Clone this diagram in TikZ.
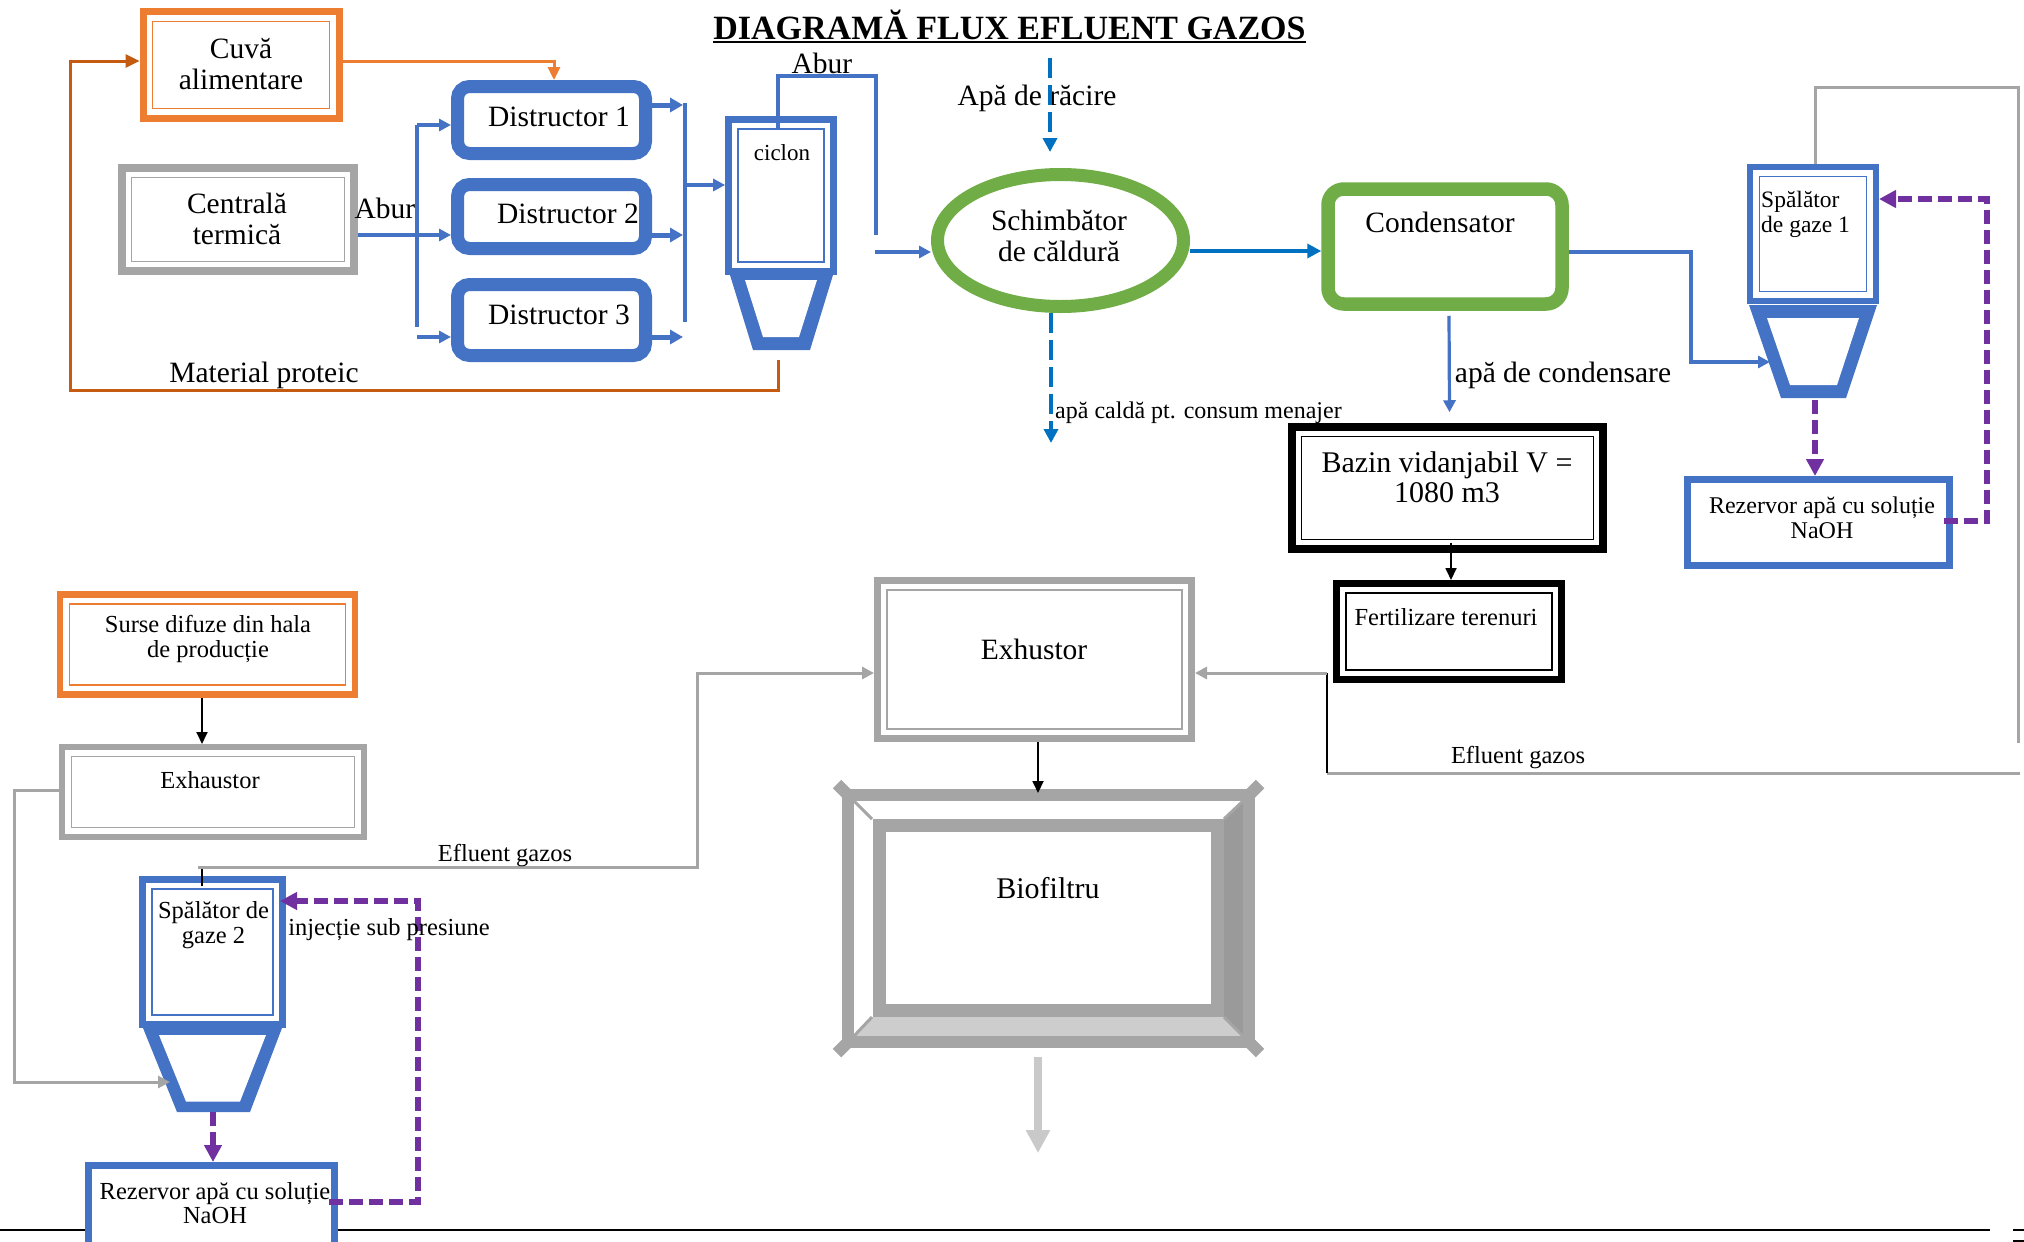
\documentclass[tikz,border=0pt]{standalone}
\usepackage{fontspec}
\setmainfont{Liberation Serif}[Ligatures=CommonOff]
\usetikzlibrary{arrows.meta,calc,shapes.geometric}
\definecolor{cOrange}{HTML}{ED7D31}
\definecolor{cBrown}{HTML}{C55A11}
\definecolor{cBlue}{HTML}{4472C4}
\definecolor{cWater}{HTML}{0070C0}
\definecolor{cGreen}{HTML}{70AD47}
\definecolor{cGray}{HTML}{A5A5A5}
\definecolor{cDark}{HTML}{9A9A9A}
\definecolor{cPale}{HTML}{CDCDCD}
\definecolor{cPurple}{HTML}{7030A0}
\definecolor{cLight}{HTML}{C9C9C9}
\begin{document}
\begin{tikzpicture}[x=1pt,y=-1pt,
  every node/.style={inner sep=0pt},
  lbl/.style={font=\fontsize{29.5}{31}\selectfont,align=center},
  lbls/.style={font=\fontsize{24.5}{24.5}\selectfont,align=center},
  wh/.style 2 args={minimum width=#1pt,minimum height=#2pt},
  dframe/.style={draw=#1,fill=white,rectangle,
    path picture={\draw[draw=#1,line width=1.1pt]
      ([shift={(9.5pt,-9.5pt)}]path picture bounding box.north west) rectangle
      ([shift={(-9.5pt,9.5pt)}]path picture bounding box.south east);}},
  dstr/.style={draw=cBlue,line width=13pt,rounded corners=12pt,fill=white,minimum width=188pt},
  tip/.style={-{Triangle[length=12pt,width=12pt]}},
  barrow/.style={draw=cBlue,line width=3.2pt,tip},
  tharrow/.style={draw=cBlue,line width=5pt,-{Triangle[length=13pt,width=14pt]}},
  warrow/.style={draw=cWater,line width=4pt,-{Triangle[length=14pt,width=14pt]}},
  wdash/.style={draw=cWater,line width=4.5pt,dash pattern=on 20pt off 7pt,-{Triangle[length=14pt,width=14pt]}},
  pdash/.style={draw=cPurple,line width=5.5pt,dash pattern=on 14pt off 6pt,-{Triangle[length=17pt,width=17pt]}},
  gline/.style={draw=cGray,line width=3pt},
  garrow/.style={draw=cGray,line width=3pt,tip},
  karrow/.style={draw=black,line width=1.8pt,-{Triangle[length=12pt,width=11pt]}},
]
\useasboundingbox (0,0) rectangle (2024,1242);

% page footer rule
\draw[line width=2pt] (0,1230) -- (1990,1230);
\draw[line width=2pt] (2013,1230) -- (2024,1230);
\draw[line width=2pt] (2013,1241) -- (2024,1241);

% title
\node[font=\bfseries\fontsize{34}{36}\selectfont,anchor=base] (title) at (1009.5,39) {DIAGRAMĂ FLUX EFLUENT GAZOS};
\draw[line width=2pt] ([yshift=-3pt]title.base west) -- ([yshift=-3pt]title.base east);

% ---------------- upper line: protein processing ----------------
\node[dframe=cOrange,line width=7pt,wh={196}{106.6}] (cuva) at (241,65) {};
\node[lbl] (cuvat) at (241,64) {Cuvă\\alimentare};

\node[dframe=cGray,line width=7.5pt,wh={232}{103}] (cent) at (238,219.5) {};
\node[lbl] (centt) at (237,219) {Centrală\\termică};

\node[dstr,minimum height=67pt] (d1) at (551.5,120) {};
\node[dstr,minimum height=64pt] (d2) at (551.5,216.5) {};
\node[dstr,minimum height=71pt] (d3) at (551.5,320) {};
\node[lbl] (d1t) at (559,117) {Distructor 1};
\node[lbl] (d2t) at (568,214) {Distructor 2};
\node[lbl] (d3t) at (559,315) {Distructor 3};

\node[dframe=cBlue,line width=6.7pt,wh={105}{152}] (cic) at (781,195.5) {};
\node[font=\fontsize{23}{24}\selectfont] (cict) at (782,153) {ciclon};
\fill[cBlue] (730,275) -- (833,275) -- (810,350) -- (753,350) -- cycle;
\fill[white] (745,280) -- (817,280) -- (799,337) -- (763,337) -- cycle;

\node[draw=cGreen,line width=13pt,ellipse,wh={246}{132}] (schimb) at (1060.5,240.5) {};
\node[lbl] (schimbt) at (1059,236) {Schimbător\\de căldură};

\node[draw=cGreen,line width=13.5pt,rounded corners=16pt,wh={234}{115}] (cond) at (1445,246.5) {};
\node[lbl] (condt) at (1440,222) {Condensator};

\node[dframe=cBlue,line width=6pt,wh={126}{134}] (spal1) at (1813,234) {};
\node[font=\fontsize{23.5}{25}\selectfont,align=left,anchor=west] (spal1t) at (1761,214) {Spălător\\de gaze 1};
\fill[cBlue] (1749,305) -- (1877,305) -- (1846,398) -- (1781,398) -- cycle;
\fill[white] (1767,318) -- (1859,318) -- (1837,385) -- (1790,385) -- cycle;

\node[draw=cBlue,line width=7pt,fill=white,wh={262}{86}] (rez1) at (1818.5,522.5) {};
\node[font=\fontsize{24}{25}\selectfont,align=center] (rez1t) at (1822,518) {Rezervor apă cu soluție\\NaOH};

\node[dframe=black,line width=7.5pt,wh={311}{122}] (baz) at (1447.5,488) {};
\node[lbl,font=\fontsize{30}{30}\selectfont] (bazt) at (1447,477) {Bazin vidanjabil V =\\1080 m3};

\node[dframe=black,line width=7pt,wh={225}{96}] (fert) at (1449,631.5) {};
\node[font=\fontsize{24.5}{26}\selectfont] (fertt) at (1446,617) {Fertilizare terenuri};

% upper connectors
\coordinate (cicout) at (778,360);
\coordinate (mp1) at (778,390);
\coordinate (mp2) at (70,390);
\coordinate (mp3) at (70,61);
\draw[cBrown,line width=3pt,-{Triangle[length=14pt,width=13pt]}] (cicout) -- (mp1) -- (mp2) -- (mp3) -- (cuva.west |- mp3);
\node[lbl] (mpt) at (264,375) {Material proteic};

\coordinate (cd) at (554,61);
\draw[cOrange,line width=3pt,-{Triangle[length=13pt,width=12pt]}] (cuva.east |- cd) -- (cd) -- (cd |- d1.north);

\coordinate (ab) at (417,235);
\coordinate (vtop) at (417,125);
\coordinate (vbot) at (417,327);
\coordinate (vb3) at (417,337);
\draw[barrow] (cent.east |- ab) -- (d2.west |- ab);
\draw[draw=cBlue,line width=3.2pt] (vtop) -- (vbot);
\draw[barrow] (vtop) -- (d1.west |- vtop);
\draw[barrow] (vb3) -- (d3.west |- vb3);
\node[lbl] (abur1) at (385,208) {Abur};

\coordinate (co1) at (683,105);
\coordinate (co2) at (683,235);
\coordinate (co3) at (683,337);
\draw[tharrow] (d1.east |- co1) -- (co1);
\draw[tharrow] (d2.east |- co2) -- (co2);
\draw[tharrow] (d3.east |- co3) -- (co3);
\draw[draw=cBlue,line width=3.2pt] (685,103) -- (685,322);
\coordinate (coll) at (685,185);
\draw[barrow] (coll) -- (cic.west |- coll);

\coordinate (cicin) at (778,129);
\coordinate (at1) at (778,76);
\coordinate (at2) at (876,76);
\coordinate (at3) at (876,235);
\draw[draw=cBlue,line width=3.2pt] (cicin) -- (at1) -- (at2) -- (at3);
\node[lbl] (abur2) at (822,63) {Abur};
\coordinate (ain) at (875,252);
\draw[barrow] (ain) -- (schimb.west |- ain);

\node[lbl] (ract) at (1037,98) {Apă de răcire};
\coordinate (rac) at (1050,58);
\draw[wdash] (rac) -- ([xshift=-10.5pt,yshift=16pt]schimb.north);

\coordinate (hotw) at (1051,443);
\draw[wdash] ([xshift=-9.5pt]schimb.south) -- (hotw);
\node[font=\fontsize{24}{24}\selectfont,anchor=west] (hott) at (1055,413) {apă caldă pt. consum menajer};

\draw[warrow] ([yshift=-10.5pt]schimb.east) -- ([yshift=-4.5pt]cond.west);

\coordinate (c1) at (1691,252);
\coordinate (c2) at (1691,362);
\coordinate (h1in) at (1770,362);
\draw[barrow] ([yshift=-5.5pt]cond.east) -- (c1) -- (c2) -- (h1in);

\draw[barrow] ([xshift=4pt,yshift=-5pt]cond.south) -- ([xshift=2pt,yshift=11pt]baz.north);
\node[lbl] (condw) at (1563,375) {apă de condensare};

\draw[karrow] ([xshift=3.5pt,yshift=10pt]baz.south) -- ([xshift=2pt]fert.north);

\coordinate (h1out) at (1815,400);
\draw[pdash] (h1out) -- ([xshift=-3.5pt]rez1.north);
\coordinate (p1) at (1987,521);
\coordinate (p2) at (1987,199);
\draw[pdash] ([xshift=-9pt,yshift=1.5pt]rez1.east) -- (p1) -- (p2) -- (spal1.east |- p2);

\coordinate (g1) at (1815,87);
\coordinate (g2) at (2018,87);
\coordinate (g3) at (2018,743);
\draw[gline] (spal1.north -| g1) -- (g1) -- (g2) -- (g3);

% ---------------- lower line: diffuse sources ----------------
\node[dframe=cOrange,line width=6.5pt,wh={295}{100}] (surse) at (207.5,644.5) {};
\node[lbls] (surset) at (208,639) {Surse difuze din hala\\de producție};

\node[dframe=cGray,line width=6pt,wh={302}{90}] (exh) at (213,792) {};
\node[lbls] (exht) at (210,780) {Exhaustor};

\node[dframe=cBlue,line width=7pt,wh={140}{145}] (spal2) at (212.5,952) {};
\node[lbls] (spal2t) at (213.5,925) {Spălător de\\gaze 2};
\fill[cBlue] (143,1028) -- (282,1028) -- (250,1112) -- (177,1112) -- cycle;
\fill[white] (159,1035) -- (266,1035) -- (240,1101.5) -- (186,1101.5) -- cycle;

\node[draw=cBlue,line width=7pt,fill=white,wh={246}{84.5}] (rez2) at (211.5,1207.75) {};
\node[lbls] (rez2t) at (215,1203) {Rezervor apă cu soluție\\NaOH};

\node[dframe=cGray,line width=7pt,wh={314}{158}] (exhb) at (1034.5,659.5) {};
\node[lbl] (exhbt) at (1034,649) {Exhustor};

% biofilter drawn as a bevelled frame
\fill[white] (854,801) -- (1243,801) -- (1224,819) -- (872,819) -- cycle;
\fill[cDark] (1243,801) -- (1243,1036) -- (1224,1017) -- (1224,819) -- cycle;
\fill[cPale] (854,1036) -- (1243,1036) -- (1224,1017) -- (872,1017) -- cycle;
\draw[cGray,line width=3pt] (854,801) -- (872,819) (1243,801) -- (1224,819)
  (854,1036) -- (872,1017) (1243,1036) -- (1224,1017);
\draw[cGray,line width=13pt,fill=white] (879,825.5) rectangle (1217.5,1010.5);
\draw[cGray,line width=12pt] (848,795) rectangle (1249,1042);
\draw[cGray,line width=12pt] (837,784) -- (848,795) (1260,784) -- (1249,795)
  (837,1053) -- (848,1042) (1260,1053) -- (1249,1042);
\node[lbl,font=\fontsize{30}{31}\selectfont] (bio) at (1048,888) {Biofiltru};

% lower connectors
\draw[karrow] ([xshift=-5.5pt]surse.south) -- ([xshift=-11pt]exh.north);

\coordinate (e1) at (14,790);
\coordinate (e2) at (14,1082);
\coordinate (h2in) at (170,1082);
\draw[garrow] ([yshift=2pt]exh.west) -- (e1) -- (e2) -- (h2in);

\coordinate (s1) at (202,867);
\coordinate (s2) at (697,867);
\coordinate (s3) at (697,673);
\draw[line width=1.2pt] ([xshift=-10.5pt,yshift=-10pt]spal2.north) -- (s1);
\draw[garrow] ([xshift=-4pt]s1) -- (s2) -- (s3) -- (exhb.west |- s3);
\node[lbls] (efl1) at (505,856) {Efluent gazos};

\coordinate (h2out) at (213,1112);
\draw[pdash] (h2out) -- (rez2.north -| h2out);
\coordinate (q1) at (418,1202);
\coordinate (q2) at (418,901);
\draw[pdash] ([xshift=-9pt]rez2.east |- q1) -- (q1) -- (q2) -- ([xshift=-6pt]spal2.east |- q2);
\node[lbls] (inj) at (389,930) {injecție sub presiune};

\coordinate (g4) at (2020,773);
\coordinate (g5) at (1327,773);
\coordinate (g6) at (1327,673);
\draw[gline] (g4) -- (g5);
\draw[line width=1.2pt] (g5) -- (g6);
\draw[garrow] (g6) -- (exhb.east |- g6);
\node[lbls] (efl2) at (1518,758) {Efluent gazos};

\coordinate (biotop) at (1038,793);
\draw[karrow] ([xshift=3.5pt]exhb.south) -- (biotop);

\coordinate (bioout) at (1038,1057);
\coordinate (biodrain) at (1038,1153);
\draw[cLight,line width=8pt,-{Triangle[length=23pt,width=23pt]}] (bioout) -- (biodrain);
\end{tikzpicture}
\end{document}
